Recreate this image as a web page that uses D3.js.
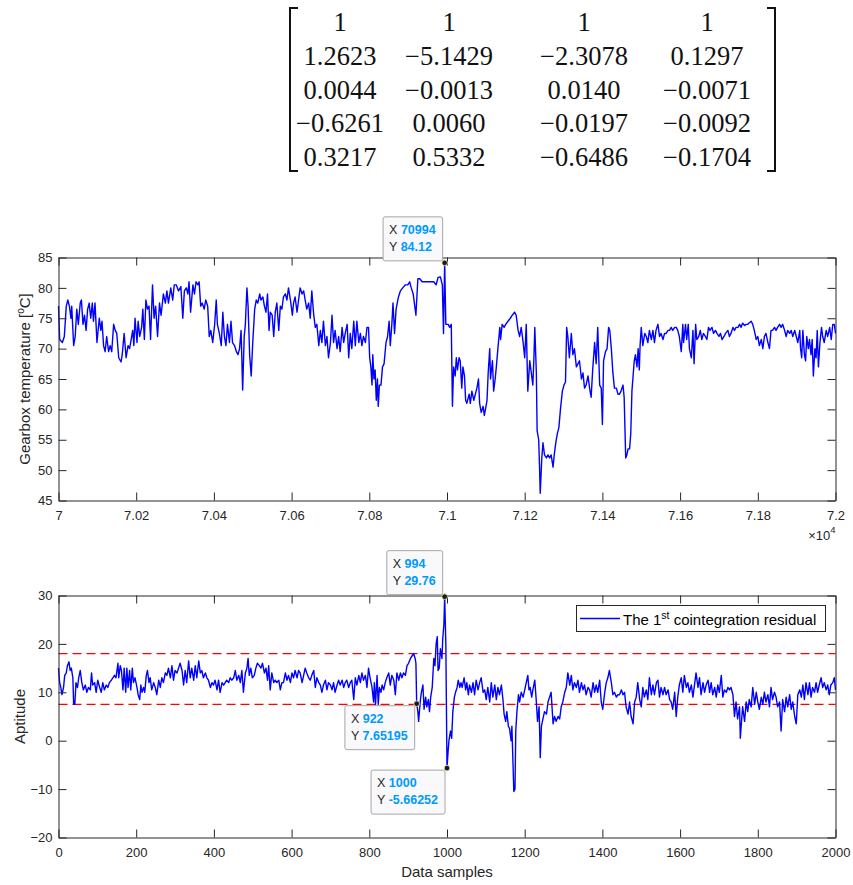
<!DOCTYPE html>
<html>
<head>
<meta charset="utf-8">
<script src="https://cdn.jsdelivr.net/npm/d3@7"></script>
<style>
  body { margin: 0; background: #fff; }
  svg { display: block; font-family: "Liberation Sans", Arial, sans-serif; }
</style>
</head>
<body>
<svg></svg>
<script>
// cointegration matrix shown above the plots
let matrixRows = [
  ["1", "1", "1", "1"],
  ["1.2623", "\u22125.1429", "\u22122.3078", "0.1297"],
  ["0.0044", "\u22120.0013", "0.0140", "\u22120.0071"],
  ["\u22120.6261", "0.0060", "\u22120.0197", "\u22120.0092"],
  ["0.3217", "0.5332", "\u22120.6486", "\u22120.1704"]
]

// gearbox temperature, [sample offset from 70000, degC]
let tempStart = 70000
let tempSeries = [[0,77],[3,71.5],[10,71],[15,72],[20,77],[24,78],[28,77],[32,75],[34,77],[39,70.5],[43,72],[47,76.5],[51,74],[56,77.5],[59,78],[63,74],[67,75.5],[71,73],[75,76.5],[79,77.5],[83,75],[87,77.5],[90,74.5],[94,77.5],[99,71],[105,75],[109,73],[112,74.5],[116,70.5],[120,69.5],[124,72],[129,69.5],[133,70.5],[137,69.5],[142,74],[146,73],[150,72.5],[155,68.5],[161,67.8],[164,69],[169,72.5],[174,68.5],[179,70.5],[183,70],[187,71.5],[191,73],[194,70.5],[197,75],[202,71],[205,74.5],[209,72],[214,73.5],[217,76.5],[221,71.5],[225,78],[229,76.5],[233,77],[237,71.5],[242,80.5],[246,75],[250,77],[255,72],[260,77.5],[264,75.5],[270,79],[275,77.5],[279,79.5],[283,77.5],[289,80],[294,78],[298,80.5],[303,80.5],[309,79.5],[315,80.2],[320,75],[324,79.5],[329,80],[333,79],[336,81],[340,76],[346,80.5],[350,79],[354,81],[359,80.5],[362,81],[366,77],[370,77.5],[375,76.5],[379,78],[384,77],[388,72],[392,73],[397,71],[402,74],[406,78],[409,74],[414,72.5],[419,70.5],[423,76],[427,72],[431,70.5],[435,74],[440,71],[444,74.5],[448,71],[453,70.5],[458,69.5],[462,69],[466,70],[470,73],[474,63.2],[478,72],[481,74],[485,80],[488,77],[492,69],[496,65.5],[500,71],[505,76.5],[509,78],[513,77.5],[518,79],[521,78],[526,78.5],[530,77],[534,76],[538,79],[542,73],[545,76],[550,75.5],[554,72],[558,76],[562,77.5],[567,73],[571,77],[575,76.5],[579,78.5],[584,79],[588,78],[592,80],[597,78],[602,75.5],[605,77.5],[609,78.5],[614,76],[618,78],[622,80],[627,79],[631,79.5],[635,78],[639,76.5],[644,77.5],[648,75],[652,79.5],[657,75.5],[661,73.5],[665,74],[670,70.5],[674,73],[678,71],[682,74.5],[687,70.5],[691,72],[695,68.5],[700,71],[704,75.5],[708,71],[712,73],[717,70],[721,72],[725,69.5],[730,73.5],[734,71],[738,72.5],[743,74],[747,68.5],[751,72.5],[755,70],[760,74.5],[764,70.5],[768,74.5],[773,71],[777,72.5],[781,70.5],[785,72],[790,71],[794,73.5],[798,73.5],[801,68.5],[804,67],[807,64],[809,69],[812,65],[815,66.5],[818,61.5],[821,65],[823,60.5],[826,64],[830,64],[834,67],[838,67.5],[843,71],[847,72],[851,74.5],[854,70.5],[858,74],[861,77.5],[865,72.5],[869,76.5],[875,78.5],[880,79.5],[886,80],[893,80.5],[899,80.5],[904,81],[908,80],[913,79],[917,77],[920,75.5],[925,81.5],[930,81.5],[936,81],[942,81],[948,81],[957,81],[966,81],[972,80.5],[977,81.7],[983,81.8],[988,80.5],[991,72.5],[994,84.12],[997,74],[1003,74],[1007,73.5],[1011,74],[1014,60.5],[1017,67],[1021,65.5],[1024,68.5],[1027,66.5],[1031,68.5],[1034,68],[1038,63.5],[1041,67],[1045,65.5],[1048,61.5],[1051,61],[1057,62.5],[1060,61],[1064,63],[1069,61.5],[1073,62.5],[1077,63.5],[1081,65],[1084,61],[1088,59.5],[1093,60.5],[1096,59],[1099,60],[1103,61.5],[1106,66],[1110,70],[1112,65],[1117,68],[1120,63],[1124,65],[1127,67],[1131,70],[1136,73.5],[1138,71.5],[1142,74],[1147,73.5],[1151,74],[1157,74.5],[1163,75],[1168,75.5],[1174,76],[1178,75.5],[1183,73],[1187,72],[1191,73.5],[1196,71],[1200,68.5],[1204,74],[1208,63],[1213,68],[1217,66],[1221,64],[1224,69],[1226,73.5],[1230,66],[1232,56.5],[1236,55],[1238,51],[1240,46.2],[1244,52],[1247,54.5],[1251,52.5],[1256,52],[1260,52.5],[1264,52],[1268,52.5],[1273,50.5],[1276,52.5],[1280,54.5],[1284,56],[1288,57],[1292,60],[1297,63],[1301,64],[1305,64.5],[1308,73.5],[1311,72],[1315,68.5],[1320,72.5],[1324,69],[1328,70],[1333,67],[1337,67.5],[1341,68],[1346,65],[1350,66],[1354,63.5],[1358,64],[1363,65.5],[1367,63.5],[1371,62],[1375,66.5],[1380,71],[1384,67.5],[1388,73.5],[1393,64],[1397,63.5],[1400,57.5],[1403,68],[1408,69.5],[1412,70],[1416,73.5],[1419,73],[1423,70],[1427,66],[1431,63.5],[1436,63.5],[1440,62.5],[1444,62.5],[1448,63],[1453,64],[1456,62],[1460,52],[1463,52.5],[1466,53.5],[1470,53.5],[1473,56],[1476,63],[1479,65.5],[1482,68],[1485,69],[1489,67],[1492,70],[1495,66.5],[1497,70.5],[1500,73.5],[1504,70.5],[1509,72.5],[1513,72],[1517,71],[1521,73],[1526,71.5],[1530,73],[1534,71],[1538,73],[1543,74],[1547,72],[1551,72.5],[1556,71.5],[1560,72.5],[1564,72.5],[1569,73],[1573,73],[1577,73.5],[1581,73],[1586,73.5],[1590,73.5],[1594,73],[1598,72],[1603,69.5],[1607,74],[1609,71],[1614,74],[1617,71.5],[1621,74],[1624,70],[1629,68.5],[1633,73],[1636,67.5],[1640,74],[1643,71.5],[1648,72],[1652,73],[1656,71.5],[1660,72.5],[1665,72],[1669,71.5],[1673,73.5],[1677,73],[1682,73.5],[1686,72.5],[1691,73],[1695,72.5],[1700,72],[1704,72.5],[1708,71.5],[1713,72],[1717,72.5],[1723,73],[1727,72],[1731,72.5],[1736,73.5],[1740,73],[1744,73.5],[1749,73.5],[1753,74],[1757,73.5],[1761,74.2],[1766,73.8],[1770,74],[1774,74],[1779,74.3],[1783,74.5],[1787,74],[1791,73],[1796,71.5],[1800,72],[1804,70.5],[1809,71.5],[1813,70],[1817,72],[1821,72.5],[1826,71],[1830,70],[1834,73],[1838,73],[1843,73.5],[1847,73],[1851,73.5],[1856,74],[1860,73.5],[1864,74],[1869,73],[1873,72],[1877,73],[1882,72.5],[1886,73],[1890,72],[1895,73],[1899,72],[1903,71],[1908,73],[1910,70],[1913,68.5],[1916,73],[1920,69],[1923,68],[1926,72],[1930,70],[1933,71.5],[1937,69],[1940,71.5],[1943,65.5],[1947,70],[1950,68.5],[1953,73],[1956,67],[1960,71],[1964,73.5],[1967,72],[1971,71],[1976,73],[1980,72],[1985,73.5],[1989,71.5],[1993,74],[1997,74],[2000,72.5]]

// 1st cointegration residual, [sample, value]
let residualSeries = [[0,15],[3,12],[6,11],[9,9.5],[13,11],[16,13.5],[20,14],[23,15.5],[27,16.3],[30,14.5],[33,15],[37,13],[39,7.5],[42,7.5],[45,12],[49,11],[52,13],[56,14.5],[60,12],[64,10.5],[69,11.5],[73,10],[77,11],[82,10.5],[85,14],[88,11.5],[93,12],[97,10],[101,12.5],[106,11],[110,10],[114,12],[118,10.5],[123,11.5],[127,11],[131,12],[136,12.5],[140,13],[144,13.5],[148,13],[153,16],[155,13],[159,15.5],[162,14.5],[166,10.5],[169,15],[173,10],[176,15],[179,11],[183,14.5],[186,10.5],[190,15],[193,12],[197,13],[202,11],[205,9.5],[209,8.5],[212,11.5],[215,10],[219,11],[222,10],[226,13.5],[229,14.5],[233,12],[236,13],[240,10.5],[245,12],[249,11],[253,9.5],[258,12.5],[262,11],[266,13],[270,12],[275,14],[279,13.5],[283,15],[288,13],[292,15.5],[296,12.5],[300,14.5],[305,14],[309,15],[313,16],[318,14.5],[322,11.5],[326,14.5],[330,12],[335,16.5],[339,13],[343,15],[348,12.5],[352,15.5],[356,13],[361,16.5],[365,14],[369,14.5],[373,13],[378,14],[382,13],[386,12.5],[391,11],[395,12],[399,11.5],[403,12.5],[408,10.5],[412,12.5],[416,10],[421,12],[425,11.5],[429,12],[433,12.5],[438,12],[442,13],[446,12.5],[451,13],[455,14.5],[459,12.5],[464,13.5],[468,12],[472,14.5],[476,10],[481,14],[485,15],[488,17],[491,13.5],[495,15],[499,13],[504,13.5],[508,15],[512,16],[517,15.5],[521,15],[525,16],[530,14],[534,15],[538,12.5],[541,15.5],[545,10.5],[549,14],[554,12],[558,12.5],[562,12],[567,12.5],[571,10.5],[575,12],[579,12],[584,14],[588,12.5],[592,13.5],[597,12],[601,14],[605,13],[609,14.5],[614,13],[618,14.5],[622,14],[627,12],[631,13.5],[635,15],[639,14],[644,13],[648,12.5],[652,13.5],[657,14.5],[661,11],[665,13],[670,12],[674,11.5],[678,10],[682,11.5],[687,12.5],[691,10.5],[695,12],[700,11.5],[704,10.5],[708,12],[712,10],[717,11.5],[721,12.5],[725,11.5],[730,12.5],[734,11],[738,12],[742,12.5],[747,11],[751,12],[755,12.5],[760,8.5],[764,13],[768,11.5],[773,13.5],[777,12],[781,14],[785,12.5],[790,13.5],[794,11],[798,15],[802,13],[807,11],[811,8],[813,12],[816,7.5],[820,13.5],[823,7.5],[826,11],[830,10],[833,11.5],[837,10.5],[841,12],[845,13],[850,14],[854,11.5],[858,13.5],[863,12.5],[867,9.5],[871,14],[876,12.5],[880,14],[884,13],[888,14],[893,13.5],[897,15.5],[901,16],[906,17],[910,17.5],[914,18],[918,17],[920,16],[922,7.65195],[925,6],[927,4],[931,8],[934,10],[938,11.5],[941,6.5],[945,9],[948,7],[952,8.5],[955,6],[958,9],[962,11],[966,17],[969,15.5],[972,20],[975,21.5],[977,14.5],[980,15],[983,19],[987,17],[989,21],[992,24],[994,29.76],[997,20],[1000,-5.66252],[1003,-2],[1005,0],[1009,2],[1012,0.5],[1015,6],[1019,9],[1022,10],[1026,11],[1029,12.5],[1033,11],[1036,12],[1039,11],[1044,13],[1048,10.5],[1051,12],[1055,9.5],[1058,11.5],[1063,10],[1067,12],[1071,9.5],[1075,12.5],[1080,10.5],[1084,12],[1088,13],[1093,10],[1097,10.5],[1101,8.5],[1105,11],[1110,8],[1114,12],[1118,9],[1123,11.5],[1127,8.5],[1131,11],[1135,9.5],[1140,11.5],[1144,8.5],[1147,5.5],[1151,4],[1154,6],[1158,3],[1161,2.5],[1165,0],[1167,3],[1170,-5],[1172,-10.5],[1175,-10],[1177,2],[1180,6],[1184,9.5],[1187,8],[1191,10],[1196,9],[1200,10.5],[1204,12],[1208,13.5],[1211,10.5],[1214,11],[1218,9],[1221,10.5],[1226,12.5],[1230,8],[1233,4],[1237,7],[1240,-3.5],[1243,3],[1247,4.5],[1251,6],[1256,5.5],[1260,8],[1264,9],[1268,10],[1273,3.5],[1277,5],[1281,4],[1286,5],[1290,4.5],[1294,7],[1298,8],[1303,10],[1307,11],[1311,14],[1316,11.5],[1320,13.5],[1324,10.5],[1328,12],[1333,11],[1337,12.5],[1341,10],[1346,12],[1350,10.5],[1354,11.5],[1358,9.5],[1363,11],[1367,10.5],[1371,9],[1376,12],[1380,10],[1384,11.5],[1388,10],[1393,12.5],[1397,8],[1401,6.5],[1406,10],[1410,12],[1414,13],[1418,14.5],[1423,12],[1427,9.5],[1431,10],[1436,9],[1440,9.5],[1444,9.5],[1449,10.5],[1453,9.5],[1457,10],[1461,7],[1466,5.5],[1470,8],[1474,5],[1479,3.5],[1483,8],[1487,9],[1491,12],[1496,8.5],[1500,7],[1504,11],[1508,9],[1513,10.5],[1517,8.5],[1521,13],[1526,9.5],[1530,11.5],[1534,9.5],[1539,12],[1543,12.5],[1547,9],[1551,11],[1556,9.5],[1560,11],[1564,9.5],[1569,10.5],[1573,8.5],[1577,8],[1581,6.5],[1586,10],[1590,5],[1594,9],[1598,11.5],[1603,13],[1607,10],[1611,13.5],[1616,11],[1620,12],[1624,10],[1629,11.5],[1633,9],[1637,11.5],[1641,14],[1646,11],[1650,13],[1654,9.5],[1659,12],[1663,10],[1667,11.5],[1672,12.5],[1676,10],[1680,12],[1684,9.5],[1689,11],[1693,9],[1697,11.5],[1701,10],[1706,13.5],[1710,9],[1714,10.5],[1719,10],[1723,11],[1727,10.5],[1731,11],[1736,9.5],[1740,5],[1744,8],[1748,4.5],[1753,7],[1755,0.5],[1759,5],[1761,7],[1766,4],[1770,8],[1774,6],[1778,8.5],[1783,7],[1787,11],[1792,7.5],[1796,10],[1800,8],[1804,6.5],[1809,9],[1813,7.5],[1817,10],[1821,8],[1826,9.5],[1830,7],[1834,11],[1838,8.5],[1843,10],[1847,9],[1851,7],[1856,8],[1860,2],[1864,8.5],[1869,6],[1873,9],[1877,7],[1882,9.5],[1886,6.5],[1890,8],[1895,5],[1899,3.5],[1903,9.5],[1908,10.5],[1912,9],[1916,11.5],[1920,8.5],[1924,12],[1929,9.5],[1933,12],[1937,9],[1941,11],[1946,10],[1950,12],[1954,10],[1958,11.5],[1963,13],[1967,11],[1971,12],[1976,10.5],[1980,11.5],[1984,9.5],[1988,11.5],[1993,12],[1997,13],[2000,10.5]]

let thresholds = [18, 7.5] // red dashed limits

// tick values
let tempXTicks = d3.range(70000, 72001, 200)
let tempYTicks = d3.range(45, 86, 5)
let resXTicks = d3.range(0, 2001, 200)
let resYTicks = [-20, -10, 0, 10, 20, 30]

// data tips: x, y, box above (up) or below
let tempTips = [{x: 70994, y: 84.12, up: true}]
let resTips = [
  {x: 994, y: 29.76, up: true},
  {x: 922, y: 7.65195, up: false},
  {x: 1000, y: -5.66252, up: false}
]

let width = 853
let height = 885
let left = 58.5
let right = 835.5
let axisColor = '#262626'

let svg = d3.select('svg').attr('width', width).attr('height', height)

// ---------- matrix ----------
let drawMatrix = () => {
  let colCenters = [340, 449, 584, 707] // column centres in px
  let rowY = d3.scaleLinear().domain([0, 4]).range([31, 166])
  let g = svg.append('g')
    .attr('font-family', '"Liberation Serif", "Times New Roman", serif')
    .attr('font-size', 26.5)
    .attr('fill', '#111')
  matrixRows.forEach((row, r) => {
    row.forEach((cell, c) => {
      g.append('text').attr('x', colCenters[c]).attr('y', rowY(r))
        .attr('text-anchor', 'middle').text(cell)
    })
  })
  // brackets
  let br = (x, dir) => `M${x + dir * 8},8 H${x} V171 H${x + dir * 8}`
  g.append('path').attr('d', br(290, 1)).attr('fill', 'none').attr('stroke', '#111').attr('stroke-width', 2)
  g.append('path').attr('d', br(775, -1)).attr('fill', 'none').attr('stroke', '#111').attr('stroke-width', 2)
}

// ---------- axes box with inward ticks ----------
let drawAxes = (xs, ys, xTicks, yTicks, xFmt) => {
  let bottom = ys.range()[0], top = ys.range()[1]
  let make = (axis, tr) => {
    let g = svg.append('g').attr('transform', tr).call(axis)
    g.attr('font-family', null).attr('font-size', 13)
    g.selectAll('path, line').attr('stroke', axisColor)
    g.selectAll('text').attr('fill', axisColor)
    return g
  }
  make(d3.axisBottom(xs).tickValues(xTicks).tickSizeInner(-8).tickSizeOuter(0).tickPadding(10).tickFormat(xFmt),
    `translate(0,${bottom})`)
  make(d3.axisTop(xs).tickValues(xTicks).tickSizeInner(-8).tickSizeOuter(0).tickFormat(''),
    `translate(0,${top})`)
  make(d3.axisLeft(ys).tickValues(yTicks).tickSizeInner(-8).tickSizeOuter(0).tickPadding(6),
    `translate(${left},0)`)
  make(d3.axisRight(ys).tickValues(yTicks).tickSizeInner(-8).tickSizeOuter(0).tickFormat(''),
    `translate(${right},0)`)
}

let drawLine = (data, xs, ys, xBase) => {
  let line = d3.line().x(d => xs(xBase + d[0])).y(d => ys(d[1]))
  svg.append('path').datum(data)
    .attr('d', line)
    .attr('fill', 'none')
    .attr('stroke', '#0000ff')
    .attr('stroke-width', 1.4)
    .attr('stroke-linejoin', 'round')
}

// MATLAB style data tip
let drawTip = (tip, xs, ys) => {
  let px = xs(tip.x), py = ys(tip.y)
  let g = svg.append('g').attr('font-size', 12.5)
  let box = g.append('rect')
  let rows = [['X', String(tip.x)], ['Y', String(tip.y)]]
  let texts = rows.map(r => {
    let t = g.append('text')
    t.append('tspan').attr('fill', '#262626').text(r[0] + ' ')
    t.append('tspan').attr('fill', '#0099ff').attr('font-weight', 'bold').text(r[1])
    return t
  })
  let w = d3.max(texts, t => t.node().getComputedTextLength()) + 13
  let h = 44
  let bx = px - 2 - w
  let by = tip.up ? py - 2 - h : py + 2
  box.attr('x', bx).attr('y', by).attr('width', w).attr('height', h)
    .attr('rx', 2).attr('fill', '#f9f9fc').attr('stroke', '#a6a6a6')
  texts.forEach((t, i) => t.attr('x', bx + 6).attr('y', by + 17 + i * 17))
  svg.append('circle').attr('cx', px).attr('cy', py).attr('r', 2.8)
    .attr('fill', '#1a1a1a').attr('stroke', '#f0e8b0').attr('stroke-width', 0.8)
}

// ---------- top plot ----------
let xTop = d3.scaleLinear().domain([70000, 72000]).range([left, right])
let yTop = d3.scaleLinear().domain([45, 85]).range([500.5, 257.5])

// ---------- bottom plot ----------
let xBot = d3.scaleLinear().domain([0, 2000]).range([left, right])
let yBot = d3.scaleLinear().domain([-20, 30]).range([837.5, 595.5])

drawMatrix()

drawLine(tempSeries, xTop, yTop, tempStart)
drawAxes(xTop, yTop, tempXTicks, tempYTicks, d => String(+(d / 10000).toFixed(2)))

// x10^4 exponent label
let ex = svg.append('text').attr('x', right).attr('y', 540).attr('text-anchor', 'end')
  .attr('font-size', 13).attr('fill', axisColor)
ex.append('tspan').text('\u00d710')
ex.append('tspan').attr('font-size', 9.5).attr('dy', -7).text('4')

svg.append('text')
  .attr('transform', `translate(30,${(yTop.range()[0] + yTop.range()[1]) / 2}) rotate(-90)`)
  .attr('text-anchor', 'middle').attr('font-size', 15).attr('fill', axisColor)
  .call(t => {
    t.append('tspan').text('Gearbox temperature [')
    t.append('tspan').attr('font-size', 10).attr('dy', -6).text('o')
    t.append('tspan').attr('dy', 6).text('C]')
  })

// threshold lines
svg.selectAll('.thr').data(thresholds).enter().append('line')
  .attr('x1', left).attr('x2', right)
  .attr('y1', d => yBot(d)).attr('y2', d => yBot(d))
  .attr('stroke', '#ff0000').attr('stroke-width', 1.4).attr('stroke-dasharray', '9,5')

drawLine(residualSeries, xBot, yBot, 0)
drawAxes(xBot, yBot, resXTicks, resYTicks, d3.format('d'))

svg.append('text')
  .attr('transform', `translate(25,${(yBot.range()[0] + yBot.range()[1]) / 2}) rotate(-90)`)
  .attr('text-anchor', 'middle').attr('font-size', 15).attr('fill', axisColor)
  .text('Aptitude')

svg.append('text').attr('x', (left + right) / 2).attr('y', 877)
  .attr('text-anchor', 'middle').attr('font-size', 15).attr('fill', axisColor)
  .text('Data samples')

// legend
let lg = svg.append('g')
lg.append('rect').attr('x', 576.5).attr('y', 605.5).attr('width', 249).attr('height', 26)
  .attr('fill', '#fff').attr('stroke', axisColor)
lg.append('line').attr('x1', 580).attr('x2', 620).attr('y1', 618.5).attr('y2', 618.5)
  .attr('stroke', '#0000ff').attr('stroke-width', 1.4)
lg.append('text').attr('x', 623).attr('y', 624.5).attr('font-size', 15).attr('fill', '#000')
  .call(t => {
    t.append('tspan').text('The 1')
    t.append('tspan').attr('font-size', 10.5).attr('dy', -6).text('st')
    t.append('tspan').attr('dy', 6).text(' cointegration residual')
  })

tempTips.forEach(t => drawTip(t, xTop, yTop))
resTips.forEach(t => drawTip(t, xBot, yBot))
</script>
</body>
</html>
